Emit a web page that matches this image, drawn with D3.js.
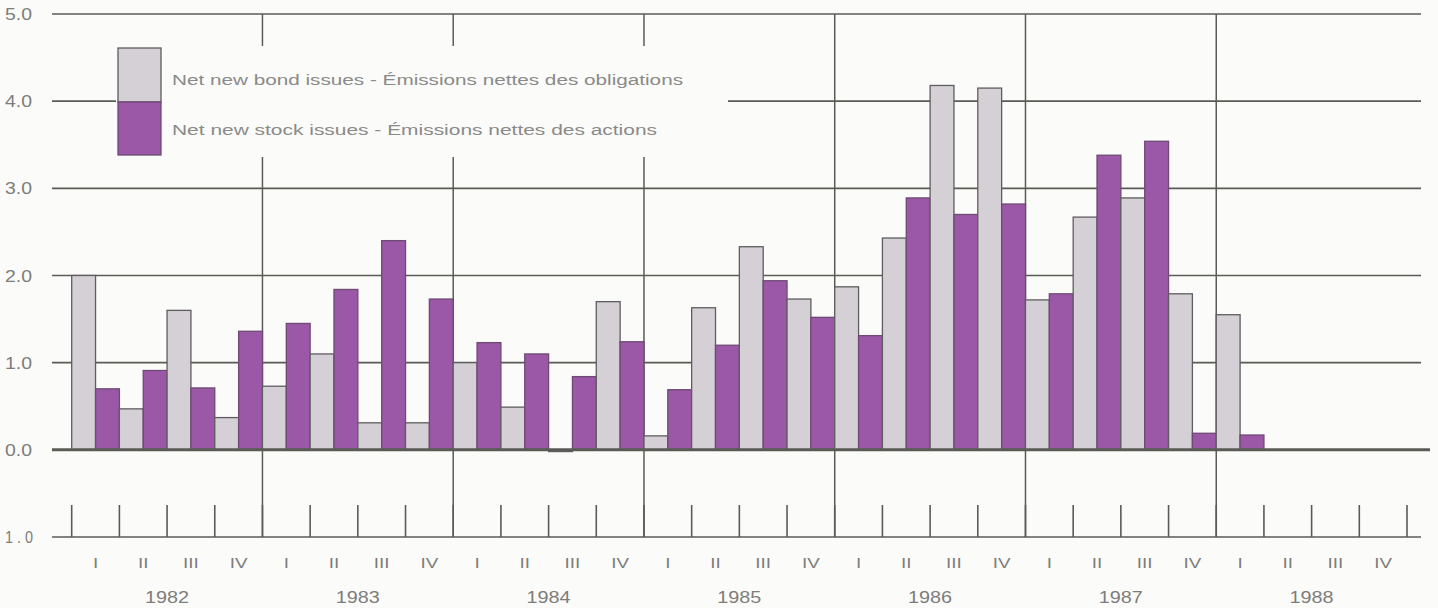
<!DOCTYPE html>
<html>
<head>
<meta charset="utf-8">
<script src="https://cdn.jsdelivr.net/npm/d3@7"></script>
<style>
  html, body { margin: 0; padding: 0; background: #fbfbf9; }
  svg { display: block; }
  text { font-family: "Liberation Sans", Arial, Helvetica, sans-serif; fill: #7d7d7b; }
</style>
</head>
<body>
<svg id="chart" width="1438" height="608"></svg>
<script>
// ---- data ----
const years = ["1982", "1983", "1984", "1985", "1986", "1987", "1988"];
const quarterLabels = ["I", "II", "III", "IV"];
const seriesNames = ["Net new bond issues - Émissions nettes des obligations",
                     "Net new stock issues - Émissions nettes des actions"];
const bondIssues = [2.00, 0.47, 1.60, 0.37,
                    0.73, 1.10, 0.31, 0.31,
                    1.00, 0.49, -0.02, 1.70,
                    0.16, 1.63, 2.33, 1.73,
                    1.87, 2.43, 4.18, 4.15,
                    1.72, 2.67, 2.89, 1.79,
                    1.55, null, null, null];
const stockIssues = [0.70, 0.91, 0.71, 1.36,
                     1.45, 1.84, 2.40, 1.73,
                     1.23, 1.10, 0.84, 1.24,
                     0.69, 1.20, 1.94, 1.52,
                     1.31, 2.89, 2.70, 2.82,
                     1.79, 3.38, 3.54, 0.19,
                     0.17, null, null, null];
const yTickValues = [-1, 0, 1, 2, 3, 4, 5];
const yTickLabels = ["1 . 0", "0.0", "1.0", "2.0", "3.0", "4.0", "5.0"];

// ---- setup ----
const svg = d3.select("#chart");
const gridColor = "#5b5b56";
const bondColor = "#d5d0d6";
const stockColor = "#9a58a7";

const quarterKeys = [];
years.forEach(y => quarterLabels.forEach(q => quarterKeys.push(y + "-" + q)));

const x = d3.scaleBand().domain(quarterKeys).range([71.7, 1407]).paddingInner(0).paddingOuter(0);
const xs = d3.scaleBand().domain(["bond", "stock"]).range([0, x.bandwidth()]).padding(0);
const y = d3.scaleLinear().domain([-1, 5]).range([537, 14]);

const xLeft = 52, xRight = 1421;

function stretch(sel, factor) {
  sel.each(function() {
    const w = this.getComputedTextLength();
    d3.select(this).attr("textLength", w * factor).attr("lengthAdjust", "spacingAndGlyphs");
  });
}

// ---- horizontal grid lines ----
const grid = svg.append("g");
grid.selectAll("line.h").data(yTickValues.filter(v => v !== 0)).join("line")
  .attr("x1", xLeft).attr("x2", xRight)
  .attr("y1", d => y(d)).attr("y2", d => y(d))
  .attr("stroke", gridColor).attr("stroke-width", 1.6);

// vertical year dividers
const dividers = d3.range(1, years.length).map(i => quarterKeys[i * 4]);
grid.selectAll("line.v").data(dividers).join("line")
  .attr("x1", d => x(d)).attr("x2", d => x(d))
  .attr("y1", y(5)).attr("y2", y(-1))
  .attr("stroke", gridColor).attr("stroke-width", 1.5);

// short quarter ticks on bottom axis
const tickPositions = quarterKeys.map(k => x(k)).concat([x(quarterKeys[quarterKeys.length - 1]) + x.bandwidth()]);
grid.selectAll("line.qt").data(tickPositions).join("line")
  .attr("x1", d => d).attr("x2", d => d)
  .attr("y1", y(-1) - 32).attr("y2", y(-1))
  .attr("stroke", gridColor).attr("stroke-width", 1.6);

// ---- legend background (interrupts grid) ----
svg.append("rect").attr("x", 116).attr("y", 46).attr("width", 612).attr("height", 111)
  .attr("fill", "#fbfbf9");

// ---- bars ----
const rows = quarterKeys.map((k, i) => ({ key: k, bond: bondIssues[i], stock: stockIssues[i] }));
const bars = svg.append("g");
rows.forEach(r => {
  [["bond", bondColor], ["stock", stockColor]].forEach(([s, c]) => {
    const v = r[s];
    if (v === null) return;
    bars.append("rect")
      .attr("x", x(r.key) + xs(s))
      .attr("width", xs.bandwidth())
      .attr("y", y(Math.max(0, v)))
      .attr("height", Math.max(1.5, Math.abs(y(v) - y(0))))
      .attr("fill", c)
      .attr("stroke", s === "bond" ? "#5f5d5f" : "#6e4a74")
      .attr("stroke-width", 1.3);
  });
});

// zero line (thicker)
svg.append("line").attr("x1", xLeft).attr("x2", 1430)
  .attr("y1", y(0)).attr("y2", y(0))
  .attr("stroke", gridColor).attr("stroke-width", 3);

// ---- y labels ----
svg.append("g").selectAll("text").data(yTickValues).join("text")
  .attr("x", 5).attr("y", d => y(d) + 6)
  .attr("text-anchor", "start")
  .style("font-size", "16.5px")
  .text((d, i) => yTickLabels[i])
  .attr("textLength", (d, i) => yTickLabels[i].length > 3 ? 28 : 27)
  .attr("lengthAdjust", "spacingAndGlyphs");

// ---- x labels ----
svg.append("g").selectAll("text").data(quarterKeys).join("text")
  .attr("x", d => x(d) + x.bandwidth() / 2)
  .attr("y", 568)
  .attr("text-anchor", "middle")
  .style("font-size", "14.5px")
  .text((d, i) => quarterLabels[i % 4])
  .call(stretch, 1.3);

svg.append("g").selectAll("text").data(years).join("text")
  .attr("x", (d, i) => x(quarterKeys[i * 4]) + 2 * x.bandwidth())
  .attr("y", 603)
  .attr("text-anchor", "middle")
  .style("font-size", "16.5px")
  .text(d => d)
  .call(stretch, 1.2);

// ---- legend ----
const lg = svg.append("g");
lg.append("rect").attr("x", 118).attr("y", 48).attr("width", 43).attr("height", 54)
  .attr("fill", bondColor).attr("stroke", "#5f5d5f").attr("stroke-width", 1.3);
lg.append("rect").attr("x", 118).attr("y", 102).attr("width", 43).attr("height", 53)
  .attr("fill", stockColor).attr("stroke", "#6e4a74").attr("stroke-width", 1.3);
lg.append("text").attr("x", 172).attr("y", 85).style("font-size", "14px").style("fill", "#8a8a88")
  .text(seriesNames[0]).attr("textLength", 511).attr("lengthAdjust", "spacingAndGlyphs");
lg.append("text").attr("x", 172).attr("y", 135).style("font-size", "14px").style("fill", "#8a8a88")
  .text(seriesNames[1]).attr("textLength", 485).attr("lengthAdjust", "spacingAndGlyphs");
</script>
</body>
</html>
